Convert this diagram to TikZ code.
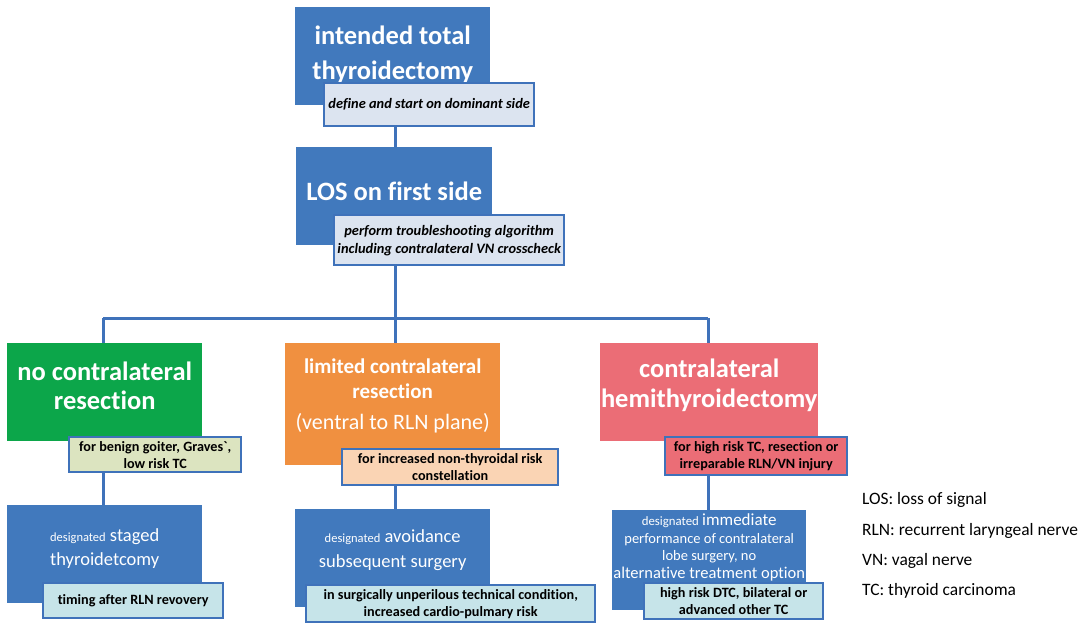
\documentclass[tikz,border=0pt]{standalone}
\usepackage{fontspec}
\setmainfont{Carlito}[Ligatures={NoCommon,TeXOff}]
\definecolor{boxblue}{HTML}{4179BD}
\definecolor{lineblue}{HTML}{3F72BA}
\definecolor{subgrey}{HTML}{DCE4F0}
\definecolor{boxgreen}{HTML}{0CA64A}
\definecolor{subgreen}{HTML}{DCE4C0}
\definecolor{boxorange}{HTML}{F09040}
\definecolor{suborange}{HTML}{FAD4B4}
\definecolor{boxred}{HTML}{EB6D76}
\definecolor{subcyan}{HTML}{C6E4E9}
\tikzset{
  mainbox/.style={fill=#1, draw=none, anchor=north west, inner sep=0pt},
  subbox/.style={fill=#1, draw=lineblue, line width=2.4pt, anchor=north west, inner sep=0pt},
  maintext/.style={text=white, align=center, inner sep=0pt},
  subtext/.style={text=black, align=center, inner sep=0pt, font=\fontsize{14.2}{17}\selectfont\bfseries},
  conn/.style={draw=lineblue, line width=3pt},
  legend/.style={anchor=west, inner sep=0pt, font=\fontsize{17.4}{20}\selectfont}
}
\begin{document}
\begin{tikzpicture}[x=1pt,y=-1pt]
\useasboundingbox (0,0) rectangle (1090,622);
\coordinate (J) at (395,318);
\coordinate (JL) at (103,318);
\coordinate (JR) at (708,318);
% boxes
\node[mainbox=boxblue, minimum width=195pt, minimum height=98pt] (A) at (295,7) {};
\node[mainbox=boxblue, minimum width=196pt, minimum height=98pt] (B) at (296,147) {};
\node[mainbox=boxgreen, minimum width=195pt, minimum height=98pt] (G) at (7,343) {};
\node[mainbox=boxorange, minimum width=215pt, minimum height=122pt] (O) at (285,343) {};
\node[mainbox=boxred, minimum width=218pt, minimum height=98pt] (R) at (600,343) {};
\node[mainbox=boxblue, minimum width=195pt, minimum height=98pt] (L) at (7,505) {};
\node[mainbox=boxblue, minimum width=195pt, minimum height=98pt] (M) at (295,509) {};
\node[mainbox=boxblue, minimum width=194pt, minimum height=100pt] (N) at (612,510) {};
% connectors
\draw[conn] (395,125) -- (B.north -| 395,0);
\draw[conn] (395,264) -- (J);
\draw[conn] (JL) -- (JR);
\draw[conn] (JL) -- (G.north -| JL);
\draw[conn] (J) -- (O.north -| J);
\draw[conn] (JR) -- (R.north -| JR);
\draw[conn] (103,471) -- (L.north -| 103,0);
\draw[conn] (395,484) -- (M.north -| 395,0);
\draw[conn] (708,474) -- (N.north -| 708,0);
% main texts
\node[maintext, font=\fontsize{26.5}{35}\selectfont\bfseries] (At) at ([yshift=1pt]A.center) {intended total\\thyroidectomy};
\node[maintext, font=\fontsize{26.5}{30}\selectfont\bfseries] (Bt) at ([yshift=5pt]B.center) {LOS on first side};
\node[maintext, font=\fontsize{26.5}{29}\selectfont\bfseries] (Gt) at ([yshift=6pt]G.center) {no contralateral\\resection};
\node[maintext, font=\fontsize{21}{25}\selectfont] (Ot) at ([yshift=8pt]O.center) {\textbf{limited contralateral}\\\textbf{resection}\\[6pt]{\fontsize{22}{25}\selectfont(ventral to RLN plane)}};
\node[maintext, font=\fontsize{26.5}{30}\selectfont\bfseries] (Rt) at ([yshift=7pt]R.center) {contralateral\\hemithyroidectomy};
\node[maintext, font=\fontsize{18.5}{24}\selectfont] (Lt) at ([yshift=6pt]L.center) {{\fontsize{12.5}{14}\selectfont designated} staged\\thyroidetcomy};
\node[maintext, font=\fontsize{18.5}{25}\selectfont] (Mt) at ([yshift=8pt]M.center) {{\fontsize{12.5}{14}\selectfont designated} avoidance\\subsequent surgery};
\node[maintext, font=\fontsize{14.5}{17.5}\selectfont] (Nt) at ([yshift=13pt]N.center) {{\fontsize{12.8}{14}\selectfont designated} {\fontsize{17}{19}\selectfont immediate}\\performance of contralateral\\lobe surgery, no\\{\fontsize{16.5}{17.5}\selectfont alternative treatment option}};
% sub boxes
\node[subbox=subgrey, minimum width=210pt, minimum height=43pt] (As) at (323,82) {};
\node[subtext, font=\fontsize{14.4}{17}\selectfont\bfseries\itshape] (Ast) at (As.center) {define and start on dominant side};
\node[subbox=subgrey, minimum width=230pt, minimum height=50pt] (Bs) at (333,214) {};
\node[subtext, font=\fontsize{14.4}{18}\selectfont\bfseries\itshape] (Bst) at (Bs.center) {perform troubleshooting algorithm\\including contralateral VN crosscheck};
\node[subbox=subgreen, minimum width=172pt, minimum height=35pt] (Gs) at (68,436) {};
\node[subtext] (Gst) at (Gs.center) {for benign goiter, Graves`,\\low risk TC};
\node[subbox=suborange, minimum width=216pt, minimum height=36pt] (Os) at (341,448) {};
\node[subtext] (Ost) at (Os.center) {for increased non-thyroidal risk\\constellation};
\node[subbox=boxred, minimum width=182pt, minimum height=38pt] (Rs) at (664,436) {};
\node[subtext] (Rst) at (Rs.center) {for high risk TC, resection or\\irreparable RLN/VN injury};
\node[subbox=subcyan, minimum width=180pt, minimum height=35pt] (Ls) at (42,582) {};
\node[subtext] (Lst) at (Ls.center) {timing after RLN revovery};
\node[subbox=subcyan, minimum width=289pt, minimum height=37pt] (Ms) at (305,584) {};
\node[subtext] (Mst) at (Ms.center) {in surgically unperilous technical condition,\\increased cardio-pulmary risk};
\node[subbox=subcyan, minimum width=179pt, minimum height=36pt] (Ns) at (643,582) {};
\node[subtext] (Nst) at (Ns.center) {high risk DTC, bilateral or\\advanced other TC};
% legend
\node[legend] (l1) at (862,500) {LOS: loss of signal};
\node[legend] (l2) at (862,531) {RLN: recurrent laryngeal nerve};
\node[legend] (l3) at (862,561) {VN: vagal nerve};
\node[legend] (l4) at (862,591) {TC: thyroid carcinoma};
\end{tikzpicture}
\end{document}
